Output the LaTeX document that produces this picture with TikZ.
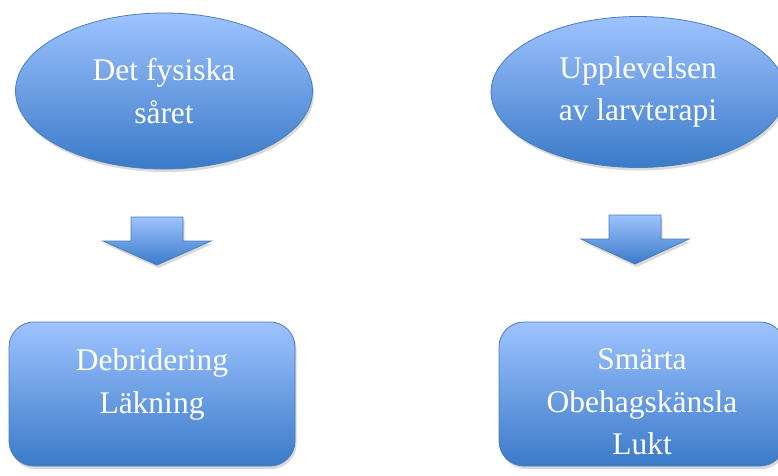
\documentclass[tikz,border=0pt]{standalone}
\usepackage{fontspec}
\setmainfont{Liberation Serif}
\usetikzlibrary{shapes.geometric,shadows,positioning}
\definecolor{boxtop}{RGB}{158,195,255}
\definecolor{boxbottom}{RGB}{58,122,200}
\definecolor{boxline}{RGB}{74,126,187}
\begin{document}
\begin{tikzpicture}[x=1pt, y=-1pt, line width=0.8pt,
  blue fill/.style={draw=boxline, top color=boxtop, bottom color=boxbottom,
    drop shadow={opacity=0.3, shadow xshift=1.5pt, shadow yshift=-3pt}},
  oval node/.style={blue fill, ellipse, inner sep=0pt, align=center},
  box node/.style={blue fill, rounded corners=25pt, minimum width=286pt, minimum height=144pt},
  box text/.style={inner sep=0pt, align=center},
  block arrow/.style={blue fill, line join=miter}]
\useasboundingbox (0,0) rectangle (778,475);
\clip (0,0) rectangle (778,475);
\begin{scope}[every node/.style={text=white, font=\fontsize{31.5}{42.5}\selectfont}]
\node[oval node, minimum width=297pt, minimum height=156pt] (fysisk) at (164,91) {Det fysiska\\såret};
\node[oval node, minimum width=294pt, minimum height=151pt] (upplev) at (638,92) {Upplevelsen\\av larvterapi};
\node[box node] (deb) at (152,394) {};
\node[box node] (smarta) at (642,394) {};
\node[box text, below=27pt of deb.north] (debtext) {Debridering\\Läkning};
\node[box text, below=27pt of smarta.north] (smartatext) {Smärta\\Obehagskänsla\\Lukt};
\end{scope}
\begin{scope}
\coordinate (la) at (157,217);
\coordinate (ra) at (635,215);
\draw[block arrow] (la) +(-26,0) -- +(26,0) -- +(26,24) -- +(54,24) -- +(0,48) -- +(-54,24) -- +(-26,24) -- cycle;
\draw[block arrow] (ra) +(-26,0) -- +(26,0) -- +(26,24) -- +(54,24) -- +(0,49) -- +(-54,24) -- +(-26,24) -- cycle;
\end{scope}
\end{tikzpicture}
\end{document}
